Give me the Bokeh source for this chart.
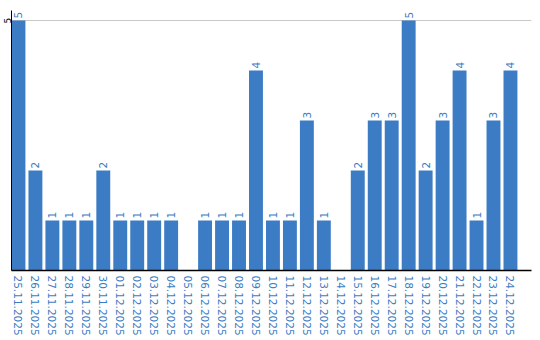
import math
from bokeh.plotting import figure
from bokeh.models import ColumnDataSource, FixedTicker, Range1d
from bokeh.core.properties import value
from bokeh.embed import file_html
from bokeh.resources import INLINE

dates = ["25.11.2025", "26.11.2025", "27.11.2025", "28.11.2025", "29.11.2025",
         "30.11.2025", "01.12.2025", "02.12.2025", "03.12.2025", "04.12.2025",
         "05.12.2025", "06.12.2025", "07.12.2025", "08.12.2025", "09.12.2025",
         "10.12.2025", "11.12.2025", "12.12.2025", "13.12.2025", "14.12.2025",
         "15.12.2025", "16.12.2025", "17.12.2025", "18.12.2025", "19.12.2025",
         "20.12.2025", "21.12.2025", "22.12.2025", "23.12.2025", "24.12.2025"]
counts = [5, 2, 1, 1, 1, 2, 1, 1, 1, 1,
          0, 1, 1, 1, 4, 1, 1, 3, 1, 0,
          2, 3, 3, 5, 2, 3, 4, 1, 3, 4]
y_ticks = [5]

BLUE = "#3b7cc4"
FONT = "DejaVu Sans"

xs = list(range(len(dates)))
src = ColumnDataSource(dict(x=xs, top=counts))
nz = [i for i, c in enumerate(counts) if c > 0]
lbl = ColumnDataSource(dict(x=[xs[i] for i in nz], y=[counts[i] for i in nz],
                            t=[str(counts[i]) for i in nz]))

p = figure(width=540, height=340, output_backend="svg", toolbar_location=None,
           x_range=Range1d(-0.41, 30.24), y_range=Range1d(0, 5.2),
           min_border_left=0, min_border_right=9, min_border_top=10,
           min_border_bottom=70)
p.outline_line_color = None
p.background_fill_color = "white"
p.border_fill_color = "white"

p.vbar(x="x", top="top", bottom=0, width=0.82, source=src,
       fill_color=BLUE, line_color=None)
p.text(x="x", y="y", text="t", source=lbl, angle=math.pi / 2,
       text_align="left", text_baseline="middle", y_offset=-2,
       text_color=BLUE, text_font=value(FONT), text_font_size="10.5px")

p.xgrid.grid_line_color = None
p.ygrid.grid_line_color = "#c8c8c8"
p.ygrid.ticker = FixedTicker(ticks=y_ticks)

xa = p.xaxis[0]
xa.ticker = FixedTicker(ticks=xs)
xa.major_label_overrides = {i: d for i, d in enumerate(dates)}
xa.major_label_orientation = "vertical"
xa.major_label_text_color = BLUE
xa.major_label_text_font = FONT
xa.major_label_text_font_size = "10.5px"
xa.major_tick_line_color = None
xa.minor_tick_line_color = None
xa.major_tick_out = 0
xa.major_tick_in = 0
xa.major_label_standoff = 5
xa.axis_line_color = "black"
xa.axis_line_width = 1.5

ya = p.yaxis[0]
ya.ticker = FixedTicker(ticks=y_ticks)
ya.major_label_orientation = "vertical"
ya.major_label_text_color = "black"
ya.major_label_text_font = FONT
ya.major_label_text_font_size = "9px"
ya.major_tick_line_color = None
ya.minor_tick_line_color = None
ya.major_tick_out = 0
ya.major_tick_in = 0
ya.major_label_standoff = 1
ya.axis_line_color = "black"

open("out.html", "w").write(file_html(p, INLINE))
